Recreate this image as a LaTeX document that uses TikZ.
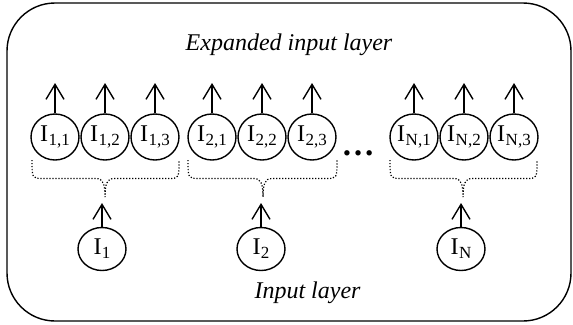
\documentclass[tikz,border=0pt]{standalone}
\usepackage{fontspec}
\setmainfont{Liberation Serif}
\usetikzlibrary{arrows.meta,shapes.geometric}

% subscripted input label, e.g. \isub{2,1}
\newcommand\isub[1]{I\kern0.5pt\raisebox{-4pt}{\fontsize{17}{17}\selectfont #1}}
% dotted brace gathering a group: left end, tip, right end (x values)
\newcommand\dotbrace[3]{%
  \draw[brc] (#1,160) .. controls (#1,178.5) .. (#1+11,178.5)
    -- (#2-9,178.5) .. controls (#2-2,178.5) and (#2,184) .. (#2,197)
    .. controls (#2,184) and (#2+2,178.5) .. (#2+9,178.5)
    -- (#3-11,178.5) .. controls (#3,178.5) .. (#3,160);}

\begin{document}
\begin{tikzpicture}[x=1pt,y=-1pt,
  txt/.style={font=\fontsize{24}{28}\selectfont},
  unit/.style={ellipse,draw,line width=1.4pt,inner sep=0pt,
    minimum width=48pt,minimum height=46pt,txt},
  inunit/.style={unit,minimum height=43pt},
  arr/.style={line width=1.4pt,-{Straight Barb[length=15pt,width=18pt,line width=1.4pt]}},
  brc/.style={line width=1.2pt,dash pattern=on 1.2pt off 1.8pt}]
\useasboundingbox (0,0) rectangle (573,324);

% frame
\draw[line width=1.4pt,rounded corners=48pt] (7,3) rectangle (571,321);

% layer titles
\node[txt,anchor=base] (title) at (289,50.7) {\itshape Expanded input layer};
\node[txt,anchor=base] (lower) at (307.5,298) {\itshape Input layer};

% expanded input units
\foreach \g/\gx/\x in {1/1/55,1/2/105,1/3/155,
                      2/1/212,2/2/262,2/3/312,
                      N/1/414,N/2/464,N/3/514}{
  \node[unit] (c\g\gx) at (\x,137) {\isub{\g,\gx}};
  \coordinate (o\g\gx) at (\x,83);
  \draw[arr] (c\g\gx.north) -- (o\g\gx);
}

% ellipsis between groups
\node[anchor=base,font=\fontsize{33}{33}\selectfont\bfseries] (dots) at (358,155.5) {…};

% dotted braces
\dotbrace{32}{105}{179}
\dotbrace{188}{263}{337}
\dotbrace{390}{463}{537}

% input units
\foreach \g/\x in {1/102,2/261,N/461}{
  \node[inunit] (b\g) at (\x,249) {\isub{\g}};
  \coordinate (t\g) at (\x,203);
  \draw[arr] (b\g.north) -- (t\g);
}
\end{tikzpicture}
\end{document}
